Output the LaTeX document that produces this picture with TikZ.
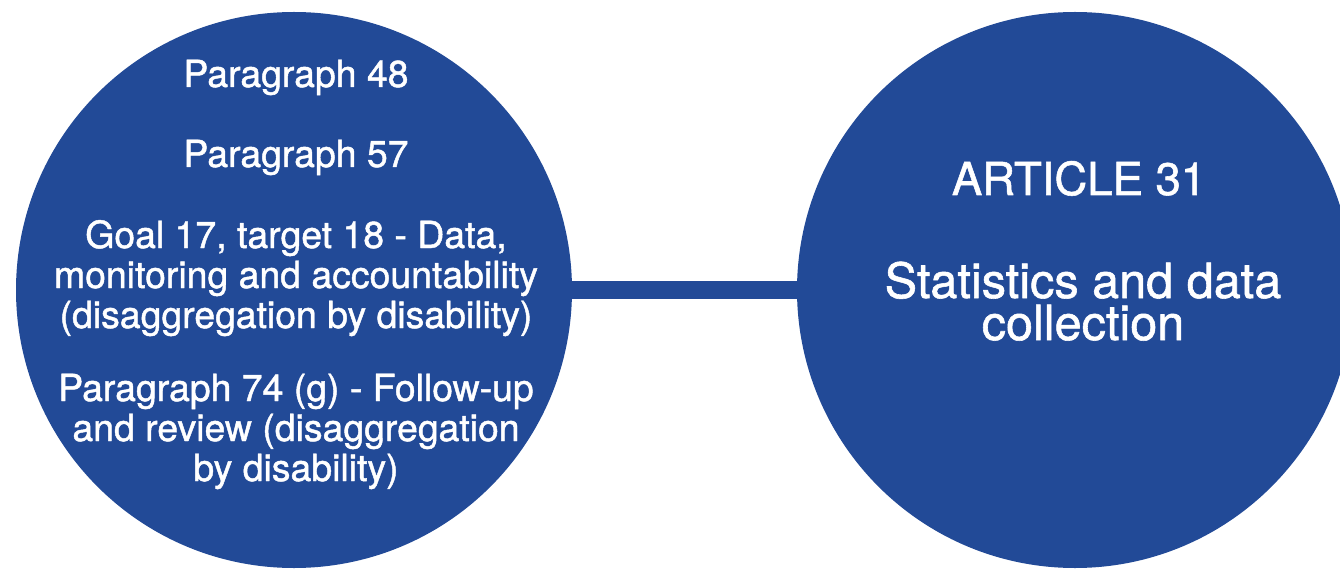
\documentclass[tikz,border=0pt]{standalone}
\usepackage{fontspec}
\setmainfont{TeX Gyre Heros}
\newfontfamily\medfont[FakeBold=1.2]{TeX Gyre Heros}
\usepackage{xcolor}
\usepackage{tikz}
\definecolor{navy}{HTML}{224A97}
\definecolor{text}{HTML}{FFFFFF}
\tikzset{
  disc/.style={circle, fill=navy, draw=none, minimum size=556pt, inner sep=0pt},
  link/.style={draw=navy, line width=18pt},
  lab/.style={text=text, align=center, font=\medfont\fontsize{37.4}{40}\selectfont},
  labb/.style={text=text, align=center, font=\medfont\fontsize{48.6}{42}\selectfont},
}
\begin{document}
\begin{tikzpicture}[x=1pt,y=-1pt]
  \useasboundingbox (0,0) rectangle (1340,569);
  \clip (0,0) rectangle (1340,569);
  \node[disc] (L) at (294,290) {};
  \node[disc] (R) at (1075,290) {};
  \draw[link] (L) -- (R);
  % left circle
  \node[lab, anchor=base] (p48) at (296,87) {Paragraph 48};
  \node[lab, anchor=base] (p57) at (296,167) {Paragraph 57};
  \node[lab, anchor=base] (g17) at (296,328) {Goal 17, target 18 - Data,\\monitoring and accountability\\(disaggregation by disability)};
  \node[lab, anchor=base] (p74) at (296,481) {Paragraph 74 (g) - Follow-up\\and review (disaggregation\\by disability)};
  % right circle
  \node[labb, anchor=base, font=\medfont\fontsize{45.5}{42}\selectfont] (art) at (1079,195) {ARTICLE 31};
  \node[labb, anchor=base] (stat) at (1083,340) {Statistics and data\\collection};
\end{tikzpicture}
\end{document}
